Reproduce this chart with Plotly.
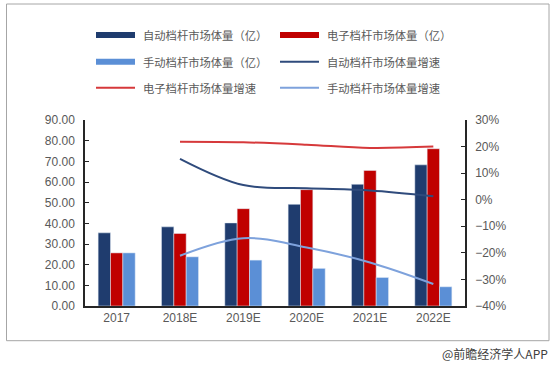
import plotly.graph_objects as go

categories = ["2017", "2018E", "2019E", "2020E", "2021E", "2022E"]
auto_volume = [35.4, 38.3, 40.2, 49.2, 58.9, 68.3]
electronic_volume = [25.7, 35.1, 47.1, 56.3, 65.6, 76.1]
manual_volume = [25.7, 23.8, 22.2, 18.2, 13.8, 9.3]

growth_categories = ["2018E", "2019E", "2020E", "2021E", "2022E"]
auto_growth = [0.154, 0.055, 0.043, 0.035, 0.013]
electronic_growth = [0.218, 0.216, 0.207, 0.195, 0.200]
manual_growth = [-0.211, -0.145, -0.180, -0.236, -0.317]

names = ["自动档杆市场体量（亿）", "电子档杆市场体量（亿）", "手动档杆市场体量（亿）",
         "自动档杆市场体量增速", "电子档杆市场体量增速", "手动档杆市场体量增速"]

C_DARK = "#1F3C6E"
C_RED = "#C00000"
C_LIGHT = "#5B8FD6"
L_DARK = "#2F4B7C"
L_RED = "#D6393B"
L_LIGHT = "#7EA2DC"

W, H = 554, 366
ML, MR, MT, MB = 85, 89, 120, 60
PW, PH = W - ML - MR, H - MT - MB


def px(x):
    return (x - ML) / PW


def py(y):
    return (H - MB - y) / PH


fig = go.Figure()
fig.add_bar(x=categories, y=auto_volume, name=names[0], marker_color=C_DARK, showlegend=False)
fig.add_bar(x=categories, y=electronic_volume, name=names[1], marker_color=C_RED, showlegend=False)
fig.add_bar(x=categories, y=manual_volume, name=names[2], marker_color=C_LIGHT, showlegend=False)
fig.add_scatter(x=growth_categories, y=auto_growth, name=names[3], yaxis="y2", mode="lines",
                line=dict(color=L_DARK, width=2, shape="spline", smoothing=1), showlegend=False)
fig.add_scatter(x=growth_categories, y=electronic_growth, name=names[4], yaxis="y2", mode="lines",
                line=dict(color=L_RED, width=2, shape="spline", smoothing=1), showlegend=False)
fig.add_scatter(x=growth_categories, y=manual_growth, name=names[5], yaxis="y2", mode="lines",
                line=dict(color=L_LIGHT, width=2, shape="spline", smoothing=1), showlegend=False)

tick_font = dict(family="Liberation Sans, Arial, sans-serif", size=12, color="#595959")

fig.update_layout(
    width=W, height=H,
    margin=dict(l=ML, r=MR, t=MT, b=MB),
    paper_bgcolor="white", plot_bgcolor="white",
    barmode="group", bargap=0.415, bargroupgap=0,
    xaxis=dict(showline=True, linecolor="#262626", linewidth=1.5, ticks="",
               tickfont=tick_font, showgrid=False, fixedrange=True),
    yaxis=dict(range=[0, 90], dtick=10, tickformat=".2f", showline=True, linecolor="#262626",
               linewidth=1.5, ticks="inside", ticklen=4, tickcolor="#262626",
               tickfont=tick_font, showgrid=False, zeroline=False, ticklabelstandoff=6),
    yaxis2=dict(range=[-0.4, 0.3], dtick=0.1, tickformat=".0%", overlaying="y", side="right",
                showline=True, linecolor="#262626", linewidth=1.5, ticks="inside", ticklen=4,
                tickcolor="#262626", tickfont=tick_font, showgrid=False, zeroline=False,
                ticklabelstandoff=6),
    showlegend=False,
)

# border
fig.add_shape(type="rect", xref="paper", yref="paper",
              x0=px(6.5), x1=px(549), y0=py(340.7), y1=py(4),
              line=dict(color="#A6A6A6", width=1), fillcolor="rgba(0,0,0,0)", layer="below")

# manual legend
leg_font = dict(family="Noto Sans CJK SC", size=11.3, color="#595959")
legend_items = [
    (names[0], C_DARK, "bar", 96, 35),
    (names[1], C_RED, "bar", 280, 35),
    (names[2], C_LIGHT, "bar", 96, 61.7),
    (names[3], L_DARK, "line", 280, 61.7),
    (names[4], L_RED, "line", 96, 87.7),
    (names[5], L_LIGHT, "line", 280, 87.7),
]
for text, color, kind, x0, yc in legend_items:
    if kind == "bar":
        fig.add_shape(type="rect", xref="paper", yref="paper",
                      x0=px(x0), x1=px(x0 + 39), y0=py(yc + 3), y1=py(yc - 3),
                      fillcolor=color, line=dict(width=0))
    else:
        fig.add_shape(type="line", xref="paper", yref="paper",
                      x0=px(x0), x1=px(x0 + 39), y0=py(yc), y1=py(yc),
                      line=dict(color=color, width=2))
    fig.add_annotation(text=text, xref="paper", yref="paper", x=px(x0 + 45), y=py(yc),
                       xanchor="left", yanchor="middle", showarrow=False, font=leg_font)

fig.add_annotation(text="@前瞻经济学人APP", xref="paper", yref="paper", x=px(550), y=py(353),
                   xanchor="right", yanchor="middle", showarrow=False,
                   font=dict(family="Noto Sans CJK SC", size=12, color="#404040"))

fig.write_html("out.html", config={"displayModeBar": False},
               post_script="document.body.style.margin='0';document.body.style.overflow='hidden';")
